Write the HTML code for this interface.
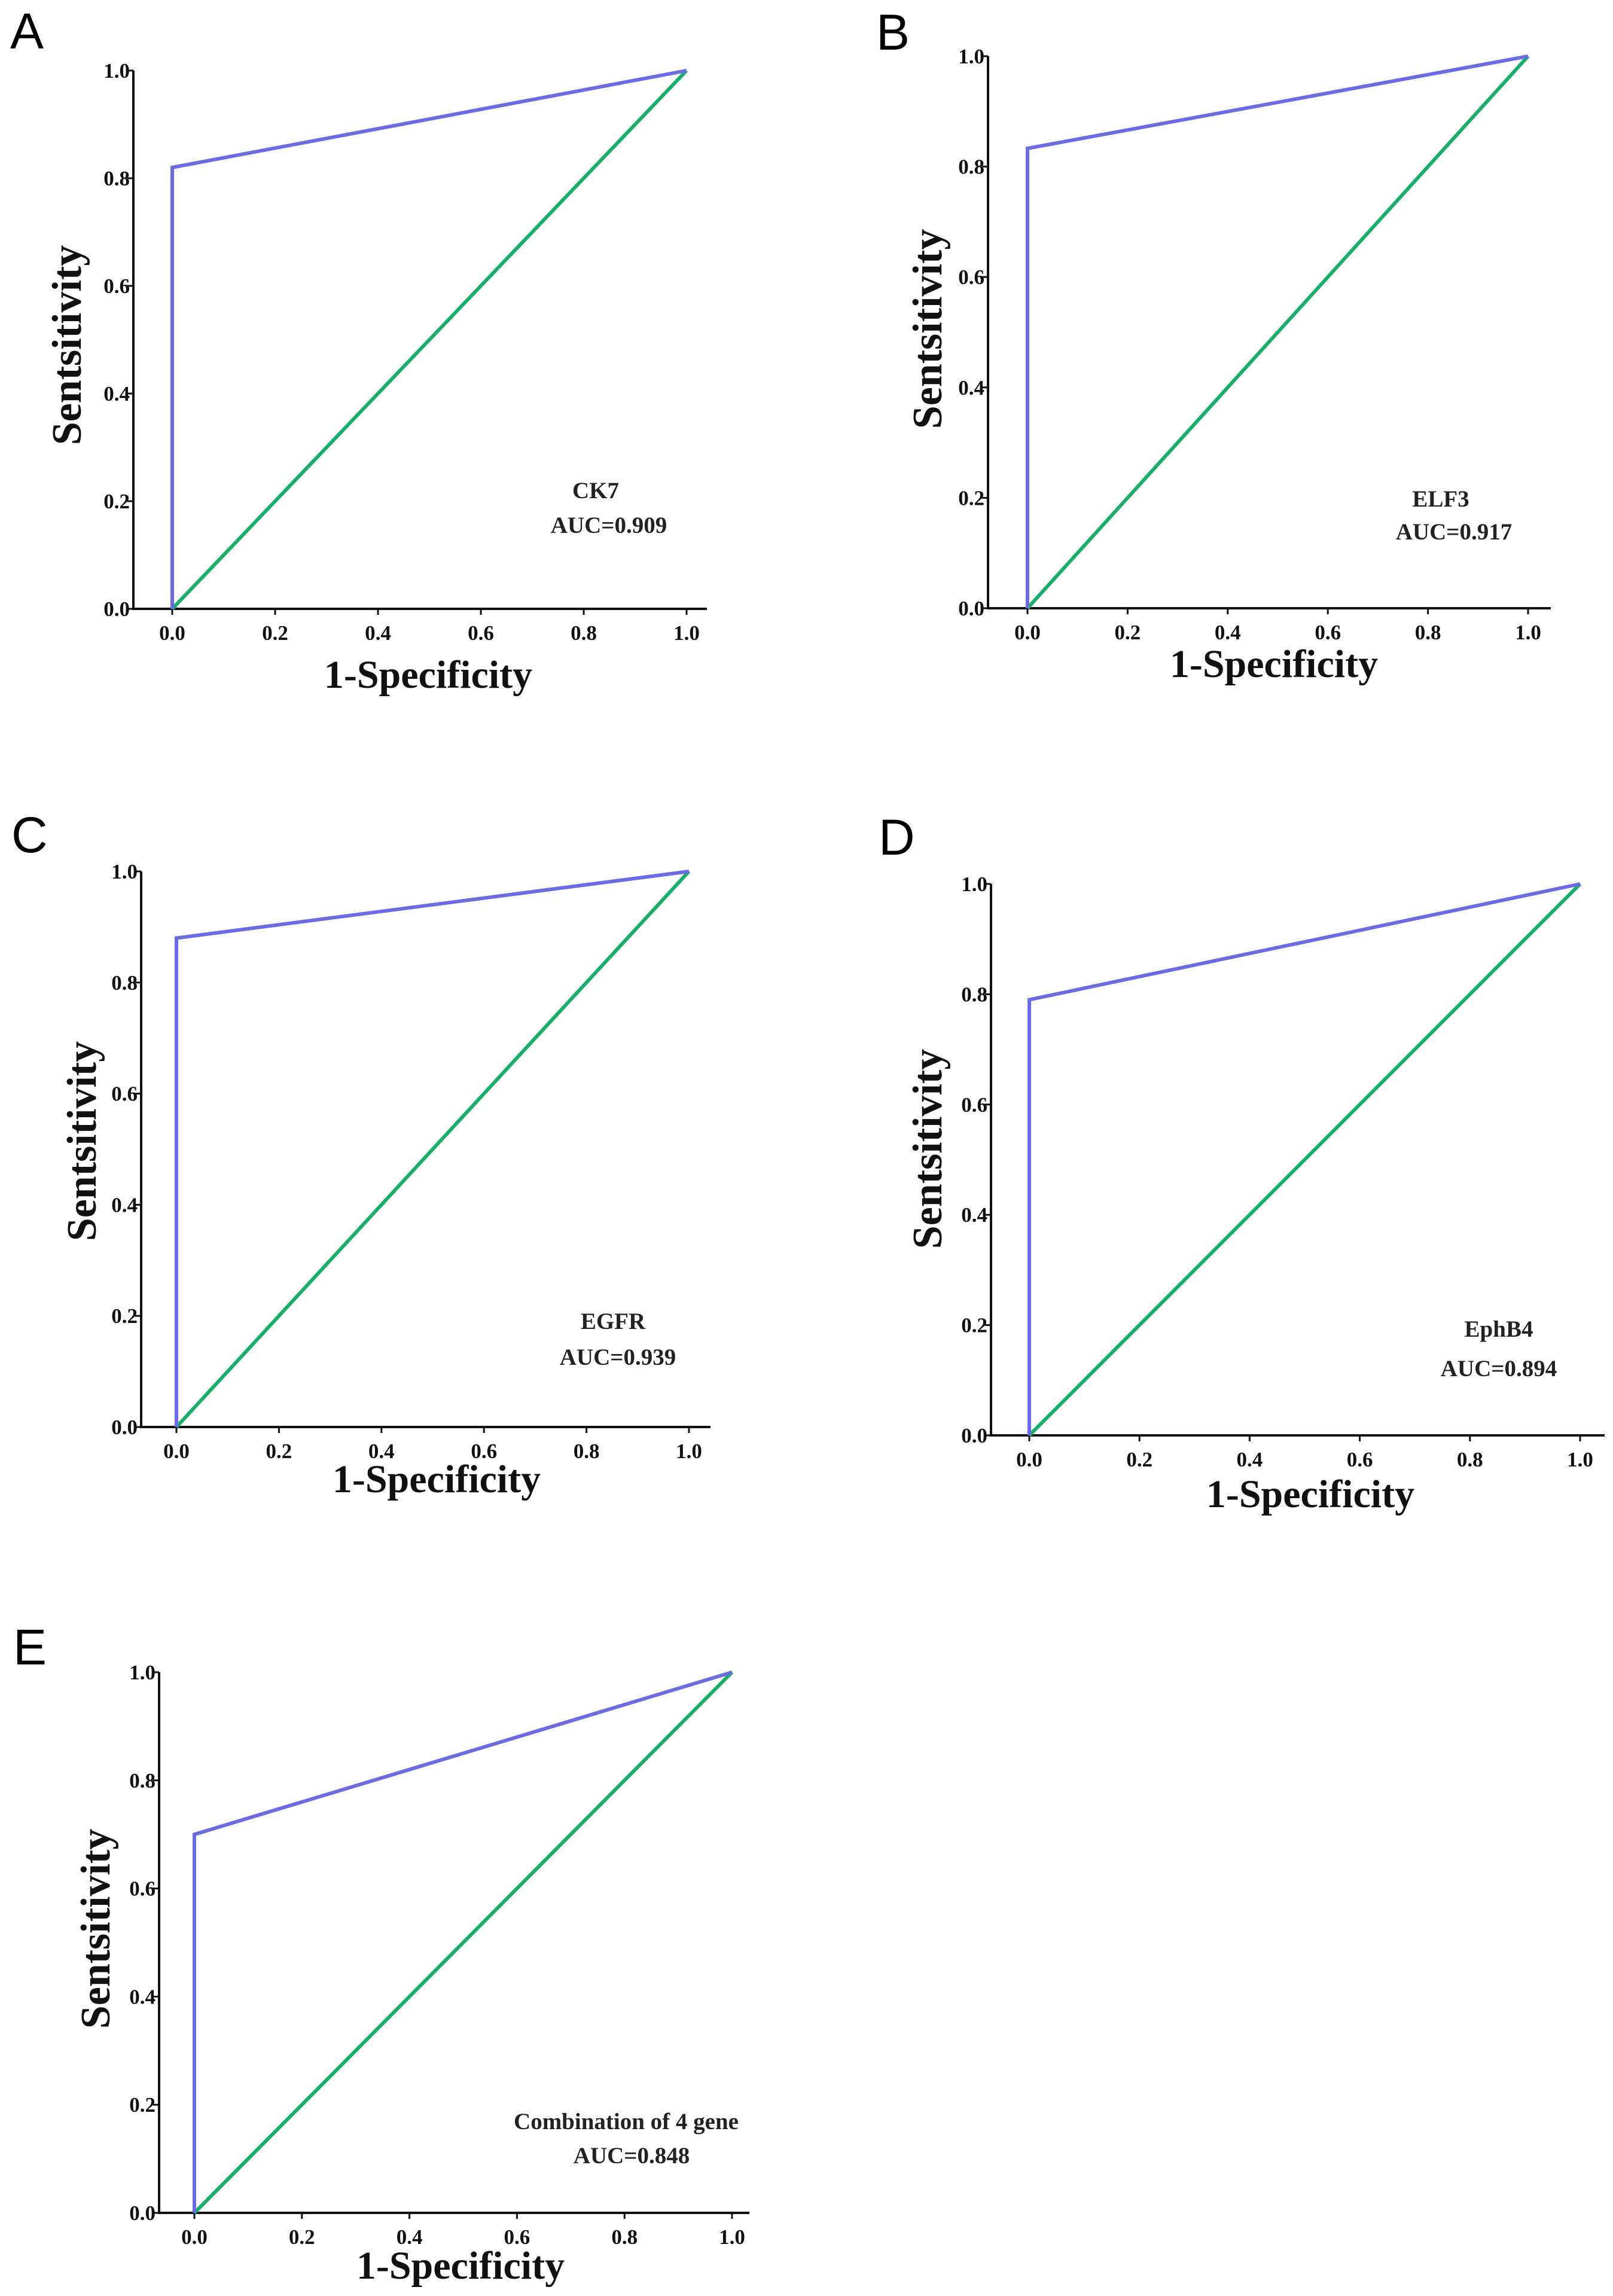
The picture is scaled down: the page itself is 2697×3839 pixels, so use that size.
<!DOCTYPE html>
<html><head><meta charset="utf-8"><style>
html,body{margin:0;padding:0;background:#fff;}
svg{display:block;}
.tk{font-family:"Liberation Serif",serif;font-weight:bold;font-size:35px;fill:#111;}
.ti{font-family:"Liberation Serif",serif;font-weight:bold;font-size:66px;fill:#111;}
.yti{font-family:"Liberation Serif",serif;font-weight:bold;font-size:70px;fill:#111;}
.an{font-family:"Liberation Serif",serif;font-weight:bold;font-size:39px;fill:#222;}
.lt{font-family:"Liberation Sans",sans-serif;font-size:84px;fill:#000;}
</style></head><body>
<svg id="fig" width="2697" height="3839" viewBox="0 0 2697 3839" xmlns="http://www.w3.org/2000/svg"></svg>
<script>
const panelLetters = ["A","B","C","D","E"];
const markerNames = ["CK7","ELF3","EGFR","EphB4","Combination of 4 gene"];
const aucValues = ["0.909","0.917","0.939","0.894","0.848"];
const rocFpr = [0, 0, 1];
const rocTprA = [0, 0.82, 1];
const rocTprB = [0, 0.833, 1];
const rocTprC = [0, 0.88, 1];
const rocTprD = [0, 0.79, 1];
const rocTprE = [0, 0.70, 1];
const refLine = [0, 1];
const tickValues = [0, 0.2, 0.4, 0.6, 0.8, 1.0];
const tickLabels = ["0.0","0.2","0.4","0.6","0.8","1.0"];

const rocTprs = [rocTprA, rocTprB, rocTprC, rocTprD, rocTprE];
const layouts = [
 {ax:223,x0:288,x1:1148,xe:1182,yt:118,yb:1018,lx:17,ly:81,ytx:112,yty:577,xtx:716,xty:1150,n:[1000,833],a:[1022,891]},
 {ax:1652,x0:1718,x1:2555,xe:2593,yt:94,yb:1017,lx:1465,ly:83,ytx:1551,yty:550,xtx:2130,xty:1132,n:[2413,847],a:[2435,902]},
 {ax:236,x0:295,x1:1152,xe:1188,yt:1457,yb:2386,lx:19,ly:1425,ytx:137,yty:1908,xtx:730,xty:2495,n:[1029,2222],a:[1037,2282]},
 {ax:1657,x0:1721,x1:2642,xe:2683,yt:1478,yb:2400,lx:1469,ly:1429,ytx:1551,yty:1921,xtx:2191,xty:2520,n:[2510,2235],a:[2510,2301]},
 {ax:266,x0:325,x1:1224,xe:1253,yt:2796,yb:3700,lx:22,ly:2783,ytx:160,yty:3225,xtx:770,xty:3810,n:[1051,3560],a:[1060,3617]}
];
const NS="http://www.w3.org/2000/svg";
const fig=document.getElementById('fig');
function mk(tag,attrs,parent){const e=document.createElementNS(NS,tag);for(const k in attrs)e.setAttribute(k,attrs[k]);parent.appendChild(e);return e;}
layouts.forEach((L,i)=>{
  const xs=v=>L.x0+(L.x1-L.x0)*v;
  const ys=v=>L.yb-(L.yb-L.yt)*v;
  const g=mk('g',{},fig);
  
  
  const lt=mk('text',{x:L.lx,y:L.ly,class:'lt'},g); lt.textContent=panelLetters[i];
  
  
  const axes=mk('path',{d:`M${L.ax},${L.yt} V${L.yb} H${L.xe}`,stroke:'#111','stroke-width':4,fill:'none'},g);
  
  
  tickValues.forEach((t,j)=>{
    const y=ys(t);
    mk('line',{x1:L.ax-10,x2:L.ax,y1:y,y2:y,stroke:'#111','stroke-width':3},g);
    const ty=mk('text',{x:L.ax-6,y:y+12,class:'tk','text-anchor':'end'},g); ty.textContent=tickLabels[j];
    
    
    const x=xs(t);
    mk('line',{x1:x,x2:x,y1:L.yb,y2:L.yb+10,stroke:'#111','stroke-width':3},g);
    const tx=mk('text',{x:x,y:L.yb+52,class:'tk','text-anchor':'middle'},g); tx.textContent=tickLabels[j];
    
    
  });
  const ref=mk('polyline',{points:refLine.map(v=>xs(v)+','+ys(v)).join(' '),stroke:'#1aae6a','stroke-width':6,fill:'none'},g);
  
  
  const tpr=rocTprs[i];
  const roc=mk('polyline',{points:rocFpr.map((v,k)=>xs(v)+','+ys(tpr[k])).join(' '),stroke:'#6b6be3','stroke-width':6,fill:'none','stroke-linejoin':'miter'},g);
  
  
  const yt=mk('text',{x:0,y:0,class:'yti','text-anchor':'middle',transform:`translate(${L.ytx+23},${L.yty}) rotate(-90)`},g); yt.textContent='Sentsitivity';
  
  
  const xt=mk('text',{x:L.xtx,y:L.xty,class:'ti','text-anchor':'middle'},g); xt.textContent='1-Specificity';
  
  
  const nm=mk('text',{x:L.n[0]-4,y:L.n[1],class:'an','text-anchor':'middle'},g); nm.textContent=markerNames[i];
  
  
  const au=mk('text',{x:L.a[0]-4,y:L.a[1],class:'an','text-anchor':'middle'},g); au.textContent='AUC='+aucValues[i];
  
  
});
</script>
</body></html>
